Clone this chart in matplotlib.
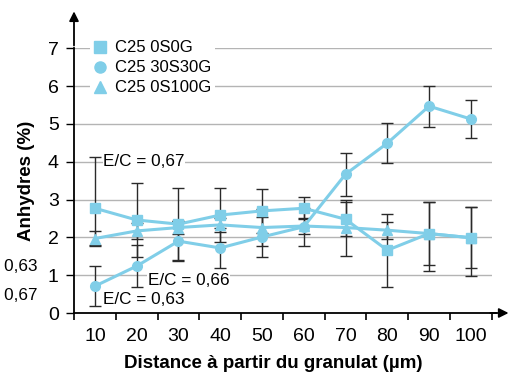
import matplotlib
matplotlib.use("Agg")
import matplotlib.pyplot as plt
from matplotlib.lines import Line2D
import numpy as np

plt.rcParams['font.family'] = ['Liberation Sans', 'DejaVu Sans']

categories = [10, 20, 30, 40, 50, 60, 70, 80, 90, 100]
s0 = [2.77, 2.46, 2.35, 2.59, 2.70, 2.77, 2.48, 1.66, 2.10, 1.99]
s0_err_low = [0.97, 0.97, 0.96, 0.72, 0.58, 0.29, 0.45, 0.97, 0.98, 1.02]
s0_err_high = [1.35, 0.97, 0.96, 0.72, 0.58, 0.29, 0.45, 0.97, 0.83, 0.80]
s30 = [0.71, 1.24, 1.90, 1.72, 2.01, 2.28, 3.67, 4.49, 5.47, 5.13]
s30_err = [0.53, 0.55, 0.52, 0.54, 0.54, 0.50, 0.57, 0.53, 0.54, 0.50]
s100 = [1.97, 2.17, 2.26, 2.33, 2.26, 2.30, 2.26, 2.19, 2.10, 1.99]
s100_err = [0.20, 0.22, 0.18, 0.18, 0.50, 0.20, 0.74, 0.22, 0.83, 0.80]
labels = ["C25 0S0G", "C25 30S30G", "C25 0S100G"]

color = '#80CEE8'
ecol = '#2a2a2a'

fig = plt.figure(figsize=(5.21, 3.74), dpi=100)
ax = fig.add_axes([74/521, 61/374, (491.7-74)/521, (313-48.3)/374])
x = np.arange(len(categories))

common = dict(color=color, lw=2.2, ecolor=ecol, elinewidth=1.0, capsize=4.5, capthick=1.0)
ax.errorbar(x, s100, yerr=s100_err, marker='^', ms=7, **common)
ax.errorbar(x, s30, yerr=s30_err, marker='o', ms=7, **common)
ax.errorbar(x, s0, yerr=[s0_err_low, s0_err_high], marker='s', ms=7, **common)

ax.set_xlim(-0.5, len(categories) - 0.5)
ax.set_ylim(0, 7)
ax.set_yticks(range(0, 8))
ax.set_xticks(x)
ax.set_xticklabels([str(c) for c in categories])
ax.set_xticks(np.arange(-0.5, len(categories)), minor=True)
ax.tick_params(axis='x', which='major', length=0, pad=11, labelsize=14)
ax.tick_params(axis='x', which='minor', length=5, width=1.2, direction='out')
ax.tick_params(axis='y', length=6, width=1.0, direction='out', pad=5, labelsize=14)
ax.yaxis.grid(True, color='#b4b4b4', lw=1.0)
ax.set_axisbelow(True)
for s in ['top', 'right']:
    ax.spines[s].set_visible(False)
for s in ['left', 'bottom']:
    ax.spines[s].set_linewidth(1.3)

# arrows
ax.annotate('', xy=(1.047, 0), xytext=(0.99, 0), xycoords='axes fraction',
            arrowprops=dict(arrowstyle='-|>', color='black', lw=1.3, mutation_scale=14), annotation_clip=False)
ax.plot([1.0, 1.01], [0, 0], transform=ax.transAxes, color='black', lw=1.3, clip_on=False)
ax.annotate('', xy=(0, 1.15), xytext=(0, 1.0), xycoords='axes fraction',
            arrowprops=dict(arrowstyle='-|>', color='black', lw=1.3, mutation_scale=14), annotation_clip=False)

ax.set_ylabel('Anhydres (%)', fontsize=13.5, fontweight='bold')
ax.yaxis.set_label_coords(-0.093, 0.5)
ax.set_xlabel('Distance à partir du granulat (µm)', fontsize=13.5, fontweight='bold')
ax.xaxis.set_label_coords(0.476, -0.16)

bb = dict(facecolor='white', edgecolor='none', pad=0.5)
fs = 12.3
ax.text(0.20, 4.0, 'E/C = 0,67', fontsize=fs, va='center', ha='left', bbox=bb)
ax.text(1.26, 0.85, 'E/C = 0,66', fontsize=fs, va='center', ha='left', bbox=bb)
ax.text(0.20, 0.36, 'E/C = 0,63', fontsize=fs, va='center', ha='left', bbox=bb)
fig.text(37/521, (374-266.7)/374, 'E/C = 0,63', fontsize=fs, va='center', ha='right')
fig.text(37/521, (374-295)/374, 'E/C = 0,67', fontsize=fs, va='center', ha='right')

handles = [Line2D([], [], color=color, marker=m, ls='none', ms=8) for m in ['s', 'o', '^']]
leg = fig.legend(handles, labels, loc='upper left', bbox_to_anchor=(90/521, (374-37)/374),
                 fontsize=12, frameon=True, borderpad=0.2, labelspacing=0.3,
                 handlelength=0.8, handletextpad=0.5, borderaxespad=0)
leg.get_frame().set_facecolor('white')
leg.get_frame().set_edgecolor('none')
leg.get_frame().set_alpha(1)
leg.get_frame().set_boxstyle('square', pad=0)

fig.savefig('out.png', dpi=100)
